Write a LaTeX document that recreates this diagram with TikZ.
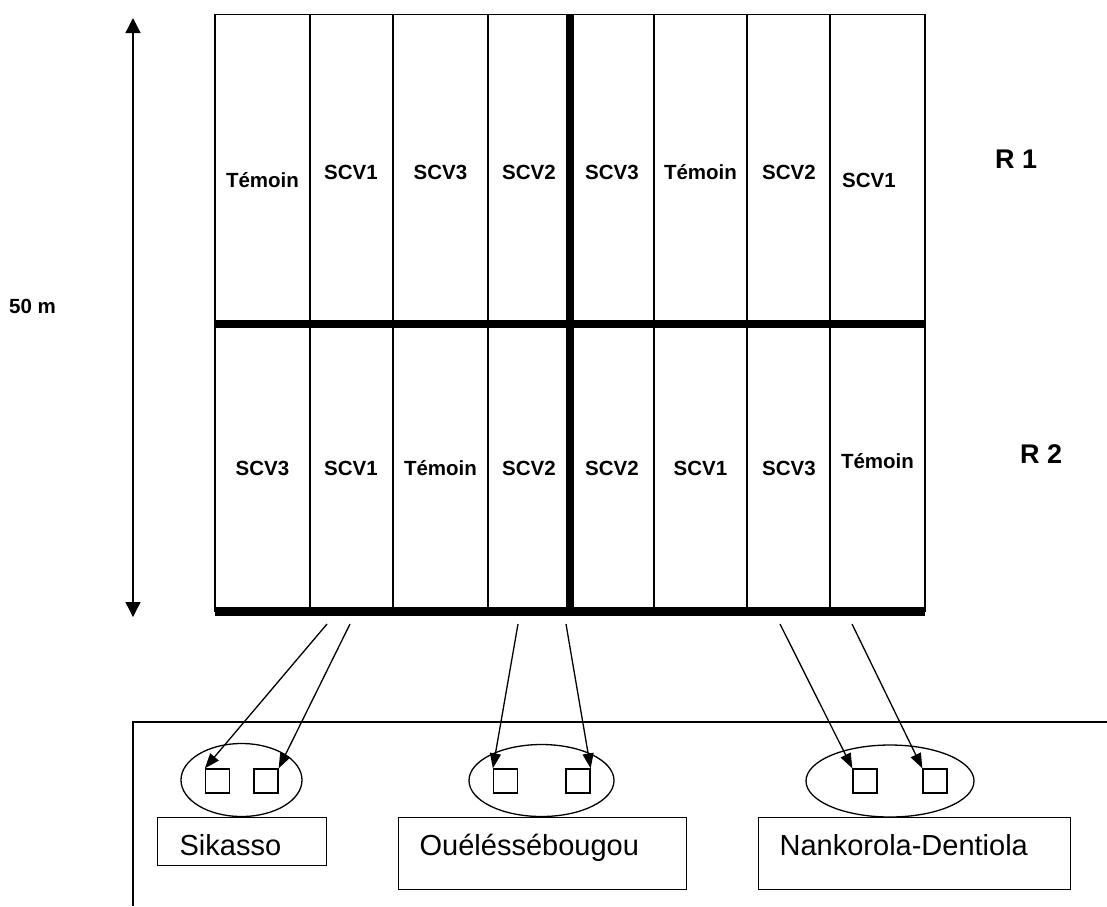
\documentclass[tikz,border=0pt]{standalone}
\usepackage{fontspec}
\setmainfont{Liberation Sans}
\usetikzlibrary{shapes.geometric,arrows.meta}
\begin{document}
\begin{tikzpicture}[x=1pt,y=-1pt,
 thinln/.style={line width=1.3pt},
 thickln/.style={line width=8.5pt},
 lab/.style={font=\fontsize{20.5}{24}\selectfont\bfseries, anchor=base, inner sep=0},
 rlab/.style={font=\fontsize{27}{32}\selectfont\bfseries, anchor=base west, inner sep=0},
 sq/.style={draw, line width=1.3pt, minimum size=24pt, inner sep=0},
 ell/.style={draw, ellipse, line width=1.3pt, inner sep=0},
 site/.style={draw, line width=1.3pt, anchor=north west, align=left, inner ysep=0, font=\fontsize{29}{34}\selectfont},
 conn/.style={line width=1.3pt, -{Triangle[length=15pt,width=11pt]}},
 dim/.style={line width=1.3pt, {Triangle[length=15pt,width=15pt]}-{Triangle[length=15pt,width=15pt]}}
]
\useasboundingbox (0,0) rectangle (1107,906);
% grid
\draw[thinln] (215,14.5) rectangle (925,611);
\foreach \cx in {310,393,488,654,747,830} \draw[thinln] (\cx,14.5) -- (\cx,611);
\draw[thickln] (570,14.5) -- (570,611);
\draw[thickln] (215,324) -- (925,324);
\draw[line width=9pt] (215,611) -- (925,611);
% row 1 labels
\node[lab] (r1c1) at (262.5,187) {Témoin};
\node[lab] (r1c2) at (351,179) {SCV1};
\node[lab] (r1c3) at (440.5,179) {SCV3};
\node[lab] (r1c4) at (529,179) {SCV2};
\node[lab] (r1c5) at (612,179) {SCV3};
\node[lab] (r1c6) at (700.5,179) {Témoin};
\node[lab] (r1c7) at (789,179) {SCV2};
\node[lab] (r1c8) at (869,187) {SCV1};
% row 2 labels
\node[lab] (r2c1) at (262.5,475) {SCV3};
\node[lab] (r2c2) at (351,475) {SCV1};
\node[lab] (r2c3) at (440.5,475) {Témoin};
\node[lab] (r2c4) at (529,475) {SCV2};
\node[lab] (r2c5) at (612,475) {SCV2};
\node[lab] (r2c6) at (700.5,475) {SCV1};
\node[lab] (r2c7) at (789,475) {SCV3};
\node[lab] (r2c8) at (877.5,468) {Témoin};
% R labels
\node[rlab] (R1) at (995,168) {R 1};
\node[rlab] (R2) at (1020,463) {R 2};
% dimension
\coordinate (dtop) at (133,18);
\coordinate (dbot) at (133,617);
\draw[dim] (dtop) -- (dbot);
\node[lab, anchor=base west] (len) at (9,313) {50 m};
% frame
\draw[thinln] (1107,722) -- (133,722) -- (133,906);
% ellipses
\node[ell, minimum width=121pt, minimum height=73pt] (e1) at (241.5,780) {};
\node[ell, minimum width=145pt, minimum height=72pt] (e2) at (541.5,780.5) {};
\node[ell, minimum width=168pt, minimum height=72pt] (e3) at (890,781) {};
% squares
\node[sq] (s1a) at (217.5,781) {};
\node[sq] (s1b) at (266,781) {};
\node[sq] (s2a) at (505.5,781) {};
\node[sq] (s2b) at (578,781) {};
\node[sq] (s3a) at (865,781) {};
\node[sq] (s3b) at (935,781) {};
% site boxes
\node[site, text width=125pt, inner xsep=22pt, text height=38pt, text depth=10pt] (sik) at (157,817) {Sikasso};
\node[site, text width=246pt, inner xsep=21pt, text height=38pt, text depth=34pt] (oue) at (398,817) {Ouéléssébougou};
\node[site, text width=270pt, inner xsep=21pt, text height=38pt, text depth=34pt] (nan) at (758,817) {Nankorola-Dentiola};
% arrows
\coordinate (a1) at (327,624);
\coordinate (a2) at (350,624);
\coordinate (a3) at (518,624);
\coordinate (a4) at (566,624);
\coordinate (a5) at (780,624);
\coordinate (a6) at (852,624);
\draw[conn] (a1) -- (s1a.north west);
\draw[conn] (a2) -- (s1b.north east);
\draw[conn] (a3) -- (s2a.north west);
\draw[conn] (a4) -- (s2b.north east);
\draw[conn] (a5) -- (s3a.north west);
\draw[conn] (a6) -- (s3b.north west);
\end{tikzpicture}
\end{document}
